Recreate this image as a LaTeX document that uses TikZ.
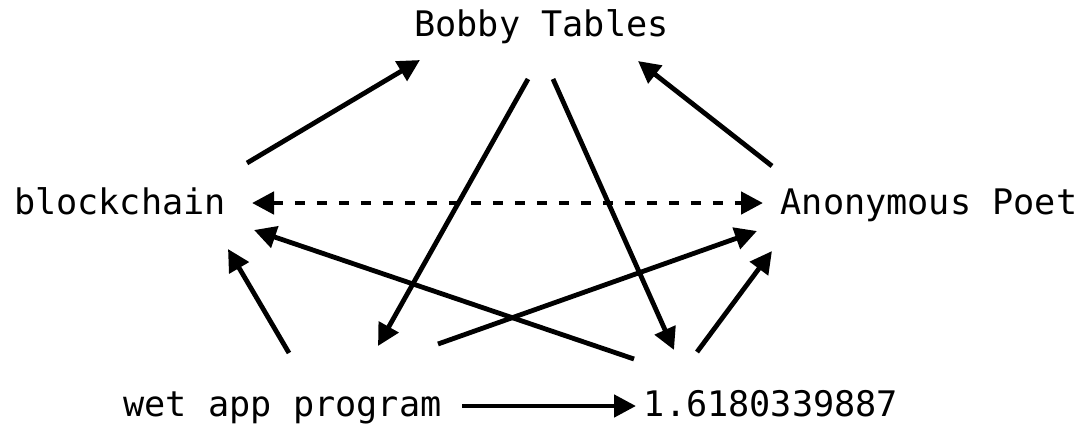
\documentclass[tikz,border=0pt]{standalone}
\usepackage{fontspec}
\setmainfont{DejaVu Sans Mono}
\usetikzlibrary{arrows.meta}

\begin{document}
\begin{tikzpicture}[x=0.5pt,y=-0.5pt,
  lbl/.style={anchor=base,inner sep=0pt,font=\fontsize{17.6pt}{20pt}\selectfont},
  edge/.style={-{Triangle[length=11pt,width=11pt]},line width=2.4pt}]
\useasboundingbox (0,0) rectangle (1083,425);
\node[lbl] (bob) at (541.5,36) {Bobby Tables};
\node[lbl] (blk) at (120,214) {blockchain};
\node[lbl] (poet) at (929,214) {Anonymous Poet};
\node[lbl] (wet) at (282.5,416) {wet app program};
\node[lbl] (num) at (771,416) {1.6180339887};
 \draw[edge] ([shift={(127,-51)}]blk.base) -- ([shift={(-121.5,24)}]bob.base);
 \draw[edge] ([shift={(-157,-48)}]poet.base) -- ([shift={(96.5,25)}]bob.base);
 \draw[edge] ([shift={(-13.5,43)}]bob.base) -- ([shift={(95.5,-70)}]wet.base);
 \draw[edge] ([shift={(11.5,43)}]bob.base) -- ([shift={(-97,-66)}]num.base);
 \draw[edge,{Triangle[length=11pt,width=11pt]}-{Triangle[length=11pt,width=11pt]},dash pattern=on 5pt off 6pt]
   ([shift={(132,-11)}]blk.base) -- ([shift={(-166,-11)}]poet.base);
 \draw[edge] ([shift={(-137,-57)}]num.base) -- ([shift={(134,16)}]blk.base);
 \draw[edge] ([shift={(155.5,-72)}]wet.base) -- ([shift={(-172,17)}]poet.base);
 \draw[edge] ([shift={(6.5,-63)}]wet.base) -- ([shift={(108,35)}]blk.base);
 \draw[edge] ([shift={(-74,-64)}]num.base) -- ([shift={(-157,37)}]poet.base);
 \draw[edge] ([shift={(179.5,-10)}]wet.base) -- ([shift={(-135,-10)}]num.base);
\end{tikzpicture}
\end{document}
